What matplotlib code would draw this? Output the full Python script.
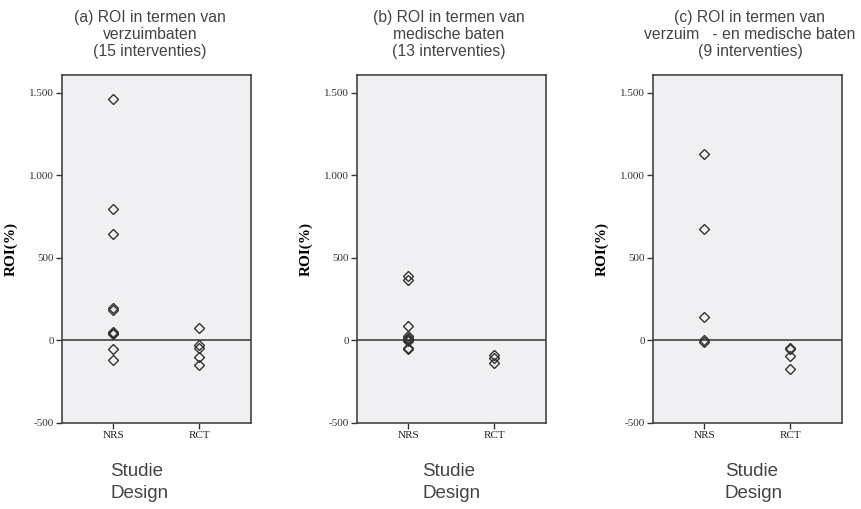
import matplotlib.pyplot as plt

# ROI (%) per intervention
a_nrs = [1462, 796, 647, 195, 185, 52, 45, 40, -50, -119]
a_rct = [77, -28, -44, -101, -147]
b_nrs = [389, 369, 85, 26, 18, 10, -4, -44, -54, 2]
b_rct = [-91, -105, -135]
c_nrs = [1131, 677, 141, 0, -12]
c_rct = [-44, -54, -95, -175]

groups = ['NRS', 'RCT']
titles = ['(a) ROI in termen van\nverzuimbaten\n(15 interventies)',
          '(b) ROI in termen van\nmedische baten\n(13 interventies)',
          '(c) ROI in termen van\nverzuim   - en medische baten\n(9 interventies)']
yticks = [-500, 0, 500, 1000, 1500]
ytick_labels = ['-500', '0', '500', '1.000', '1.500']

panels = [(a_nrs, a_rct), (b_nrs, b_rct), (c_nrs, c_rct)]
lefts = [0.072, 0.4146, 0.7584]
width = 0.219
title_x = [150, 449, 750]
design_x = [110, 422, 725]

fig = plt.figure(figsize=(8.61, 5.09), dpi=100)

for i, (nrs, rct) in enumerate(panels):
    ax = fig.add_axes([lefts[i], 0.169, width, 0.684])
    ax.set_facecolor('#f0f0f2')
    ax.axhline(0, color='#333333', lw=1.1, zorder=1)
    ax.plot([1] * len(nrs), nrs, 'D', ms=5.2, mfc='none', mec='#333333', mew=1.0, zorder=3)
    ax.plot([2] * len(rct), rct, 'D', ms=5.2, mfc='none', mec='#333333', mew=1.0, zorder=3)
    ax.set_xlim(0.4, 2.6)
    ax.set_ylim(-500, 1610)
    ax.set_yticks(yticks)
    ax.set_yticklabels(ytick_labels, family='Liberation Serif', fontsize=8, color='#333333')
    ax.set_xticks([1, 2])
    ax.set_xticklabels(groups, family='Liberation Serif', fontsize=8, color='#222222')
    ax.tick_params(direction='out', length=4, width=1, color='#333333', pad=2)
    for s in ax.spines.values():
        s.set_color('#444444')
        s.set_linewidth(1.2)
    ax.set_ylabel('ROI(%)', family='Liberation Serif', fontweight='bold', fontsize=11, labelpad=8)
    fig.text(title_x[i] / 861, 1 - 10 / 509, titles[i], ha='center', va='top', fontsize=11.3,
             color='#444444', family='Liberation Sans', linespacing=1.17)
    fig.text(design_x[i] / 861, 1 - 463 / 509, 'Studie\nDesign', ha='left', va='top', fontsize=13.5,
             color='#444444', family='Liberation Sans', linespacing=1.4)

fig.savefig('out.png', dpi=100)
